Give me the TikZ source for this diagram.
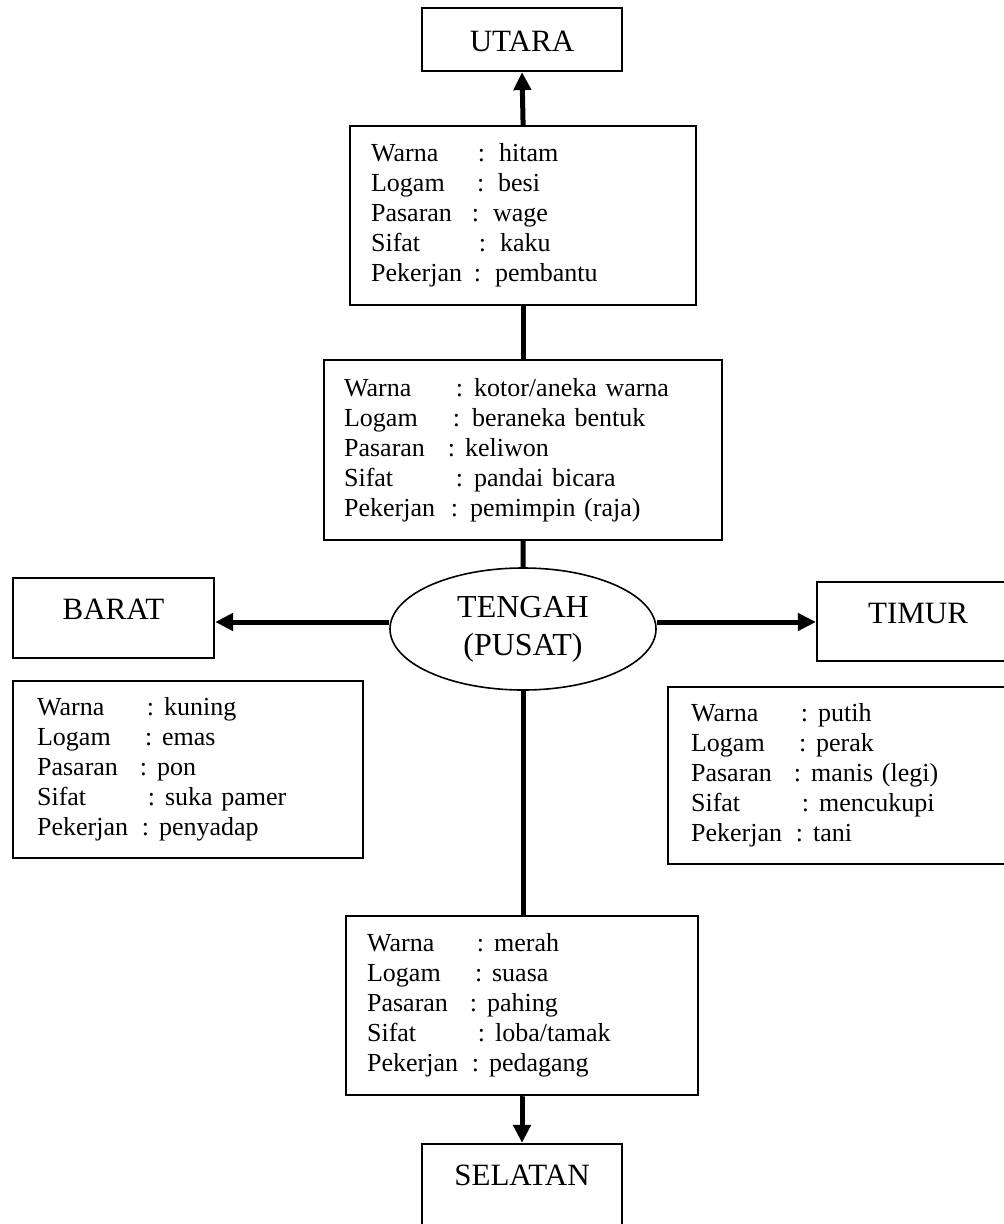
\documentclass[tikz,border=0pt]{standalone}
\usepackage{fontspec}
\setmainfont{Liberation Serif}
\usetikzlibrary{arrows.meta,shapes.geometric}
\newcommand\rw[4]{\makebox[#1pt][l]{#2}\makebox[7pt][c]{:}\hspace{#3pt}#4}
\newcommand\bodyfnt{\fontsize{26pt}{30pt}\selectfont}
\newcommand\titlefnt{\fontsize{31pt}{37pt}\selectfont}
\newcommand\centrefnt{\fontsize{32pt}{38pt}\selectfont}
\tikzset{
  info/.style={draw, line width=2.2pt, anchor=north west, align=left,
    font=\bodyfnt, inner ysep=0pt},
  dirbox/.style={draw, line width=2.2pt, anchor=base, inner sep=0pt,
    font=\titlefnt, text height=41pt, text depth=39pt, minimum width=201pt},
  conn/.style={line width=5pt},
  arr/.style={conn, -{Triangle[length=18pt,width=17pt]}}
}
\begin{document}
\begin{tikzpicture}[x=1pt,y=-1pt]
\useasboundingbox (0,0) rectangle (1004,1224);

% direction boxes
\node[dirbox, text height=43pt, text depth=20pt, minimum width=200pt] (utara) at (522,51) {UTARA};
\node[dirbox] (barat) at (113.5,619) {BARAT};
\node[dirbox, text depth=38pt, minimum width=202pt] (timur) at (918,623) {TIMUR};
\node[dirbox, text depth=41pt, minimum width=200pt] (selatan) at (522,1185) {SELATAN};

% centre ellipse
\node[draw, ellipse, line width=1.6pt, inner sep=0pt, minimum width=266pt,
  minimum height=122pt, align=center, font=\centrefnt] (tengah) at (523,629) {TENGAH\\(PUSAT)};

% info boxes
\node[info, inner xsep=21pt, text width=304pt, minimum height=179pt] (north) at (349,125) {%
\rw{107}{Warna}{14}{hitam}\\
\rw{106}{Logam}{14}{besi}\\
\rw{101}{Pasaran}{14}{wage}\\
\rw{108}{Sifat}{14}{kaku}\\
\rw{103}{Pekerjan}{14}{pembantu}};

\node[info, inner xsep=20pt, text width=358pt, minimum height=180pt] (mid) at (323,359) {%
\rw{112}{Warna}{11}{kotor/aneka warna}\\
\rw{109}{Logam}{12}{beraneka bentuk}\\
\rw{104}{Pasaran}{10}{keliwon}\\
\rw{112}{Sifat}{11}{pandai bicara}\\
\rw{107}{Pekerjan}{12}{pemimpin (raja)}};

\node[info, inner xsep=24pt, text width=302pt, minimum height=177pt] (west) at (12,680) {%
\rw{110}{Warna}{10}{kuning}\\
\rw{108}{Logam}{10}{emas}\\
\rw{103}{Pasaran}{10}{pon}\\
\rw{111}{Sifat}{10}{suka pamer}\\
\rw{105}{Pekerjan}{10}{penyadap}};

\node[info, inner xsep=23pt, text width=306pt, minimum height=177pt] (east) at (667,686) {%
\rw{110}{Warna}{10}{putih}\\
\rw{108}{Logam}{10}{perak}\\
\rw{103}{Pasaran}{10}{manis (legi)}\\
\rw{111}{Sifat}{10}{mencukupi}\\
\rw{105}{Pekerjan}{10}{tani}};

\node[info, inner xsep=21pt, text width=310pt, minimum height=179pt] (south) at (345,915) {%
\rw{110}{Warna}{10}{merah}\\
\rw{108}{Logam}{10}{suasa}\\
\rw{103}{Pasaran}{10}{pahing}\\
\rw{111}{Sifat}{10}{loba/tamak}\\
\rw{105}{Pekerjan}{10}{pedagang}};

% connectors
\draw[arr] (north.north) -- (utara.south);
\draw[conn] (mid.north) -- (north.south);
\draw[conn] (tengah.north) -- (mid.south);
\draw[arr] ([yshift=7pt]tengah.west) coordinate (wl) -- (wl -| barat.east);
\draw[arr] ([yshift=7pt]tengah.east) coordinate (el) -- (el -| timur.west);
\draw[conn] (tengah.south) -- (tengah.south |- south.north);
\draw[arr] (south.south) -- (south.south -| selatan.north) -- (selatan.north);
\end{tikzpicture}
\end{document}
